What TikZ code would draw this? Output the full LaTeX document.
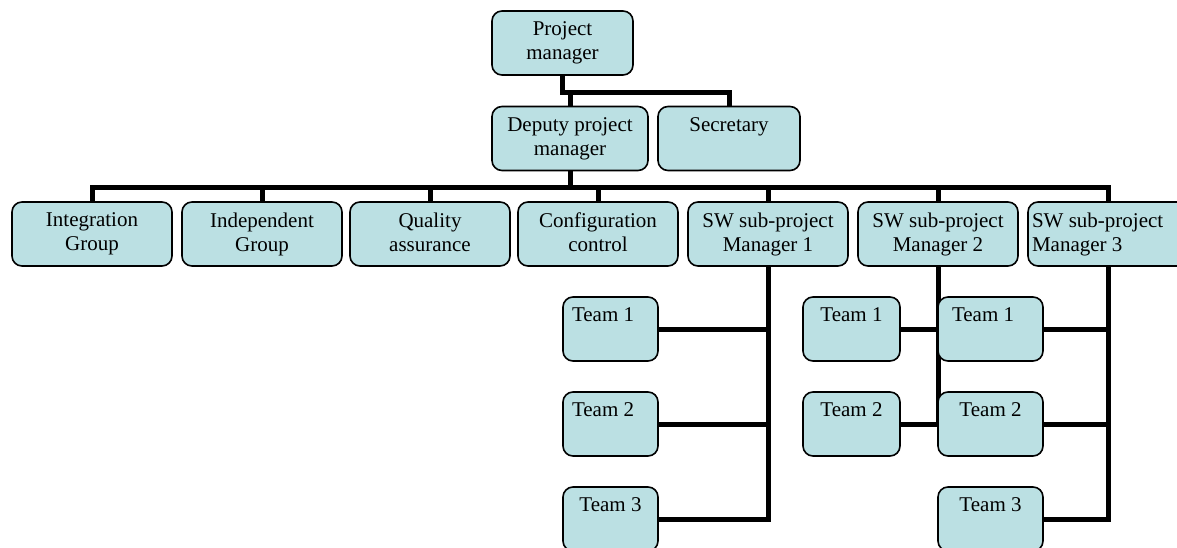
\documentclass[tikz,border=0pt]{standalone}
\usepackage{fontspec}
\setmainfont{Liberation Serif}
\usepackage{tikz}
\usetikzlibrary{backgrounds}
\definecolor{ChartBlue}{HTML}{BBE0E3}
\tikzset{
    chartbox/.style={draw=black,line width=1.6pt,fill=ChartBlue,rounded corners=10pt,
        minimum height=64pt,inner sep=4pt,align=center,font=\fontsize{21}{24}\selectfont},
    teambox/.style={chartbox,minimum width=95pt},
    leftlabel/.style={text width=77pt,align=flush left},
    wire/.style={line width=5pt}
}

\begin{document}
\begin{tikzpicture}[x=1pt,y=-1pt]
    \clip (0,0) rectangle (1177,548);

    \node[chartbox,minimum width=141pt] (pm) at (562.5,43) {Project\\manager};
    \node[chartbox,minimum width=156pt] (dpm) at (570,138.5) {Deputy project\\manager};
    \node[chartbox,minimum width=142pt] (sec) at (729,138.5) {Secretary\\\vphantom{g}};

    \node[chartbox,minimum width=160pt] (ig) at (92,234) {Integration\\Group};
    \node[chartbox,minimum width=160pt] (idg) at (262,234) {Independent\\Group};
    \node[chartbox,minimum width=160pt] (qa) at (430,234) {Quality\\assurance\vphantom{g}};
    \node[chartbox,minimum width=160pt] (cc) at (598,234) {Configuration\\control\vphantom{g}};
    \node[chartbox,minimum width=160pt] (m1) at (768,234) {SW sub-project\\Manager 1};
    \node[chartbox,minimum width=160pt] (m2) at (938,234) {SW sub-project\\Manager 2};
    \node[chartbox,minimum width=160pt,text width=152pt,align=flush left] (m3) at (1108,234) {SW sub-project\\Manager 3};

    \node[teambox,leftlabel] (t11) at (610.5,329) {Team 1\\\vphantom{g}};
    \node[teambox,leftlabel] (t12) at (610.5,424) {Team 2\\\vphantom{g}};
    \node[teambox] (t13) at (610.5,519) {Team 3\\\vphantom{g}};

    \node[teambox,minimum width=97pt] (t21) at (851.5,329) {Team 1\\\vphantom{g}};
    \node[teambox,minimum width=97pt] (t22) at (851.5,424) {Team 2\\\vphantom{g}};

    \node[teambox,minimum width=105pt,leftlabel] (t31) at (990.5,329) {Team 1\\\vphantom{g}};
    \node[teambox,minimum width=105pt] (t32) at (990.5,424) {Team 2\\\vphantom{g}};
    \node[teambox,minimum width=105pt] (t33) at (990.5,519) {Team 3\\\vphantom{g}};

    \begin{scope}[on background layer]
        \draw[wire] (pm.south) -- ++(0,17) coordinate (top) -| (sec.north);
        \draw[wire] (top) -| (dpm.north);

        \draw[wire] (dpm.south) -- ++(0,16) coordinate (bus);
        \foreach \n in {ig,idg,qa,cc,m1,m2,m3}
            \draw[wire] (bus) -| (\n.north);

        \foreach \t in {t11,t12,t13}
            \draw[wire] (m1.south) |- (\t.east);
        \foreach \t in {t21,t22}
            \draw[wire] (m2.south) |- (\t.east);
        \foreach \t in {t31,t32,t33}
            \draw[wire] (m3.south) |- (\t.east);
    \end{scope}
\end{tikzpicture}
\end{document}
